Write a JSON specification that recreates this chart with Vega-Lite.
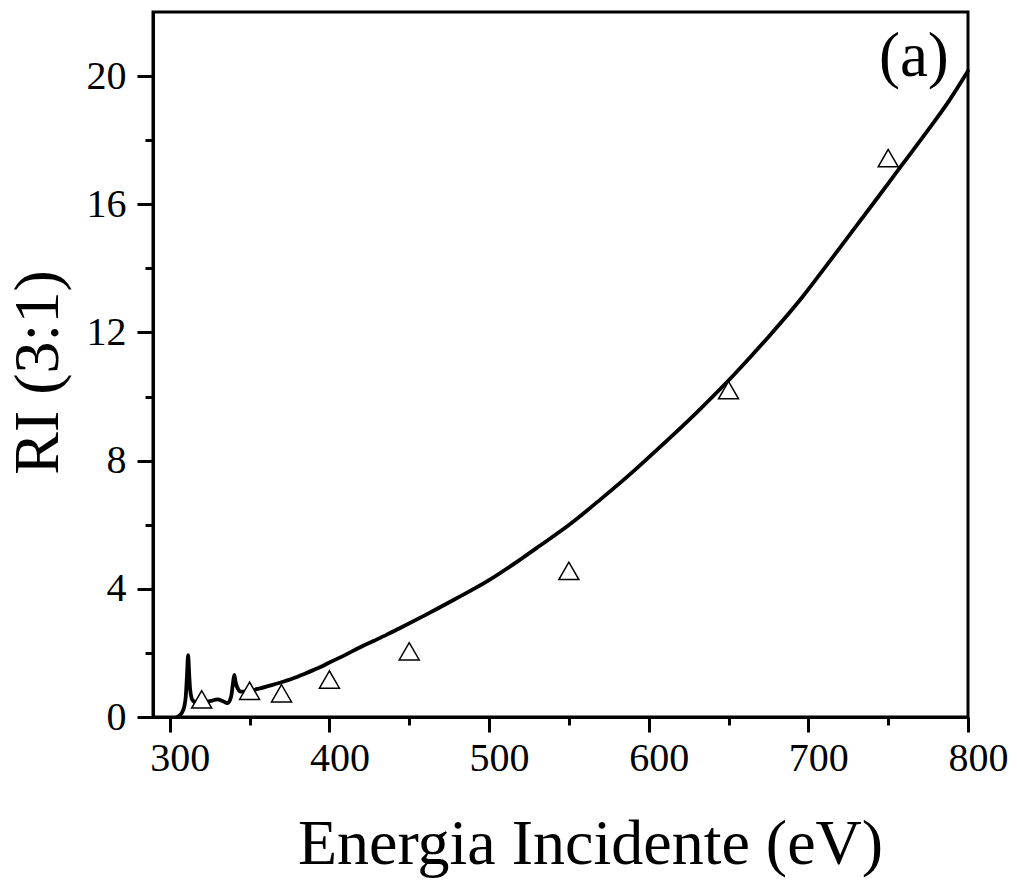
{
  "$schema": "https://vega.github.io/schema/vega-lite/v6.json",
  "width": 815,
  "height": 705,
  "autosize": {"type": "none"},
  "padding": {"left": 153, "top": 12, "right": 49, "bottom": 167},
  "background": "white",
  "config": {
    "view": {"stroke": "black", "strokeWidth": 3},
    "font": "Liberation Serif"
  },
  "datasets": {
    "curve": [
      {"E": 304.8, "RI": 0.0},
      {"E": 306.5, "RI": 0.06},
      {"E": 308.0, "RI": 0.17},
      {"E": 309.2, "RI": 0.35},
      {"E": 310.0, "RI": 0.63},
      {"E": 310.8, "RI": 1.3},
      {"E": 311.5, "RI": 1.93},
      {"E": 312.2, "RI": 1.3},
      {"E": 312.8, "RI": 0.84},
      {"E": 314.2, "RI": 0.53},
      {"E": 317.0, "RI": 0.44},
      {"E": 321.0, "RI": 0.45},
      {"E": 325.8, "RI": 0.5},
      {"E": 329.9, "RI": 0.55},
      {"E": 333.0, "RI": 0.5},
      {"E": 336.2, "RI": 0.43},
      {"E": 338.4, "RI": 0.63},
      {"E": 339.6, "RI": 1.05},
      {"E": 340.4, "RI": 1.31},
      {"E": 341.2, "RI": 1.1},
      {"E": 342.1, "RI": 0.94},
      {"E": 344.7, "RI": 0.79},
      {"E": 350.0, "RI": 0.82},
      {"E": 356.2, "RI": 0.89},
      {"E": 362.0, "RI": 0.97},
      {"E": 369.0, "RI": 1.07},
      {"E": 377.0, "RI": 1.2},
      {"E": 385.0, "RI": 1.36},
      {"E": 394.0, "RI": 1.55},
      {"E": 400.0, "RI": 1.7},
      {"E": 410.0, "RI": 1.94},
      {"E": 419.0, "RI": 2.17},
      {"E": 428.0, "RI": 2.38},
      {"E": 436.0, "RI": 2.57},
      {"E": 444.0, "RI": 2.77},
      {"E": 460.0, "RI": 3.18},
      {"E": 478.0, "RI": 3.66},
      {"E": 500.0, "RI": 4.27},
      {"E": 520.0, "RI": 4.93},
      {"E": 532.0, "RI": 5.35},
      {"E": 550.0, "RI": 5.99},
      {"E": 570.0, "RI": 6.8},
      {"E": 590.0, "RI": 7.65},
      {"E": 605.0, "RI": 8.33},
      {"E": 630.0, "RI": 9.5},
      {"E": 654.0, "RI": 10.71},
      {"E": 675.0, "RI": 11.86},
      {"E": 696.0, "RI": 13.09},
      {"E": 710.0, "RI": 14.0},
      {"E": 727.0, "RI": 15.12},
      {"E": 743.0, "RI": 16.18},
      {"E": 759.0, "RI": 17.25},
      {"E": 774.0, "RI": 18.25},
      {"E": 788.0, "RI": 19.22},
      {"E": 800.0, "RI": 20.16}
    ],
    "points": [
      {"E": 320, "RI": 0.55},
      {"E": 350, "RI": 0.82},
      {"E": 370, "RI": 0.74},
      {"E": 400, "RI": 1.17},
      {"E": 450, "RI": 2.05},
      {"E": 550, "RI": 4.56},
      {"E": 650, "RI": 10.2},
      {"E": 750, "RI": 17.44}
    ],
    "label": [{"E": 788, "RI": 20.0, "t": "(a)"}],
    "empty": [{"E": 300, "RI": 0}]
  },
  "layer": [
    {
      "data": {"name": "empty"},
      "mark": {"type": "point", "opacity": 0},
      "encoding": {
        "x": {
          "field": "E", "type": "quantitative",
          "scale": {"domain": [289.5, 800], "nice": false, "zero": false},
          "axis": {
            "orient": "bottom",
            "values": [350, 450, 550, 650, 750],
            "labels": false, "domain": false, "grid": false, "title": null,
            "tickSize": 8, "tickWidth": 3, "tickColor": "black"
          }
        },
        "y": {
          "field": "RI", "type": "quantitative",
          "scale": {"domain": [0, 22], "nice": false, "zero": false},
          "axis": {
            "orient": "left",
            "values": [2, 6, 10, 14, 18],
            "labels": false, "domain": false, "grid": false, "title": null,
            "tickSize": 8, "tickWidth": 3, "tickColor": "black"
          }
        }
      }
    },
    {
      "data": {"name": "curve"},
      "mark": {"type": "line", "color": "black", "strokeWidth": 3.8, "strokeJoin": "round", "strokeCap": "round", "interpolate": "monotone"},
      "encoding": {
        "x": {
          "field": "E", "type": "quantitative",
          "axis": {
            "orient": "bottom",
            "values": [300, 400, 500, 600, 700, 800],
            "grid": false,
            "title": "Energia Incidente (eV)",
            "titleFont": "Liberation Serif", "titleFontSize": 64, "titleFontWeight": "normal",
            "titleColor": "black", "titlePadding": 34, "titleX": 437,
            "labelFont": "Liberation Serif", "labelFontSize": 40, "labelColor": "black",
            "labelPadding": 6, "labelFlush": false, "labelOffset": 10,
            "domainColor": "black", "domainWidth": 3,
            "tickSize": 15, "tickWidth": 3, "tickColor": "black"
          }
        },
        "y": {
          "field": "RI", "type": "quantitative",
          "axis": {
            "orient": "left",
            "values": [0, 4, 8, 12, 16, 20],
            "grid": false,
            "title": "RI (3:1)",
            "titleFont": "Liberation Serif", "titleFontSize": 64, "titleFontWeight": "normal",
            "titleColor": "black", "titlePadding": 16, "titleY": 360,
            "labelFont": "Liberation Serif", "labelFontSize": 40, "labelColor": "black",
            "labelPadding": 11, "labelFlush": false,
            "domainColor": "black", "domainWidth": 3,
            "tickSize": 16, "tickWidth": 3, "tickColor": "black"
          }
        },
        "order": {"field": "E", "type": "quantitative"}
      }
    },
    {
      "data": {"name": "points"},
      "mark": {"type": "point", "shape": "triangle-up", "filled": true, "fill": "white", "stroke": "black", "strokeWidth": 1.5, "size": 400, "opacity": 1},
      "encoding": {
        "x": {"field": "E", "type": "quantitative", "axis": null},
        "y": {"field": "RI", "type": "quantitative", "axis": null}
      }
    },
    {
      "data": {"name": "label"},
      "mark": {"type": "text", "align": "right", "baseline": "alphabetic", "font": "Liberation Serif", "fontSize": 63, "color": "black"},
      "encoding": {
        "x": {"field": "E", "type": "quantitative", "axis": null},
        "y": {"field": "RI", "type": "quantitative", "axis": null},
        "text": {"field": "t"}
      }
    }
  ],
  "resolve": {"axis": {"x": "independent", "y": "independent"}}
}
